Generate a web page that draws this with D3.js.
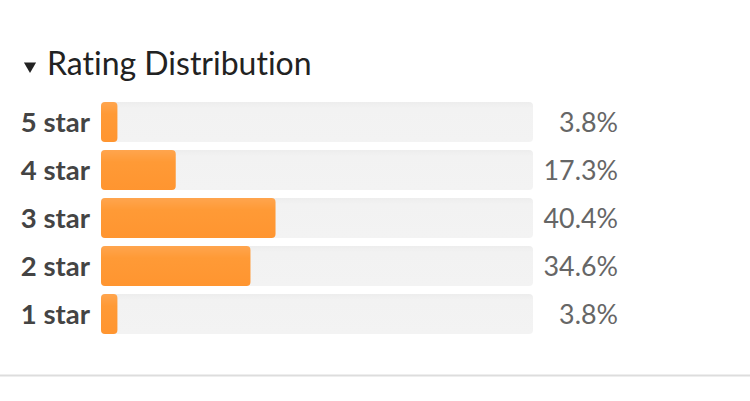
<!DOCTYPE html>
<html><head><meta charset="utf-8">
<script src="https://cdn.jsdelivr.net/npm/d3@7"></script>
<style>
html,body{margin:0;padding:0;background:#fff;}
svg{display:block;font-family:Lato,"Open Sans",sans-serif;font-variant-ligatures:none;font-feature-settings:"liga" 0;}
</style></head>
<body>
<script>
const categories = ["5 star","4 star","3 star","2 star","1 star"];
const percents = [3.8, 17.3, 40.4, 34.6, 3.8];
const percentLabels = ["3.8%","17.3%","40.4%","34.6%","3.8%"];
const title = "Rating Distribution";

const W = 750, H = 401;
const svg = d3.select("body").append("svg").attr("width", W).attr("height", H);

const defs = svg.append("defs");
const g1 = defs.append("linearGradient").attr("id","barGrad").attr("x1",0).attr("y1",0).attr("x2",0).attr("y2",1);
g1.append("stop").attr("offset","0%").attr("stop-color","#ffa54e");
g1.append("stop").attr("offset","30%").attr("stop-color","#ff9a36");
g1.append("stop").attr("offset","100%").attr("stop-color","#ff9530");
const g2 = defs.append("linearGradient").attr("id","trackGrad").attr("x1",0).attr("y1",0).attr("x2",0).attr("y2",1);
g2.append("stop").attr("offset","0%").attr("stop-color","#ededed");
g2.append("stop").attr("offset","15%").attr("stop-color","#f2f2f2");
g2.append("stop").attr("offset","100%").attr("stop-color","#f3f3f3");

// Title
svg.append("path")
  .attr("d", d3.symbol().type(d3.symbolTriangle).size(64)())
  .attr("transform","translate(30,66) rotate(180)")
  .attr("fill","#222");
svg.append("text").attr("x",47).attr("y",75)
  .attr("font-size",32).attr("fill","#222").text(title);

const x0 = 101, x1 = 533;
const x = d3.scaleLinear().domain([0,100]).range([x0, x1]);
const y = d3.scaleBand().domain(categories).range([102, 334]).paddingInner(1/6).paddingOuter(0);

const rows = svg.selectAll("g.row").data(categories).join("g").attr("class","row");

rows.append("rect")
  .attr("x", x(0)).attr("y", d => y(d))
  .attr("width", x(100)-x(0)).attr("height", y.bandwidth())
  .attr("rx",4).attr("fill","url(#trackGrad)");

rows.append("rect")
  .attr("x", x(0)).attr("y", d => y(d))
  .attr("width", (d,i) => x(percents[i]) - x(0)).attr("height", y.bandwidth())
  .attr("rx",4).attr("fill","url(#barGrad)");

rows.append("text")
  .attr("x", 90).attr("y", d => y(d) + y.bandwidth()/2)
  .attr("dy","0.36em").attr("text-anchor","end")
  .attr("font-size",27.5).attr("font-weight","bold").attr("fill","#444")
  .text(d => d);

rows.append("text")
  .attr("x", 618).attr("y", d => y(d) + y.bandwidth()/2)
  .attr("dy","0.36em").attr("text-anchor","end")
  .attr("font-size",26.8).attr("fill","#666")
  .text((d,i) => percentLabels[i]);

svg.append("line").attr("x1",0).attr("x2",W).attr("y1",375.5).attr("y2",375.5)
  .attr("stroke","#ddd").attr("stroke-width",2);
</script>
</body></html>
